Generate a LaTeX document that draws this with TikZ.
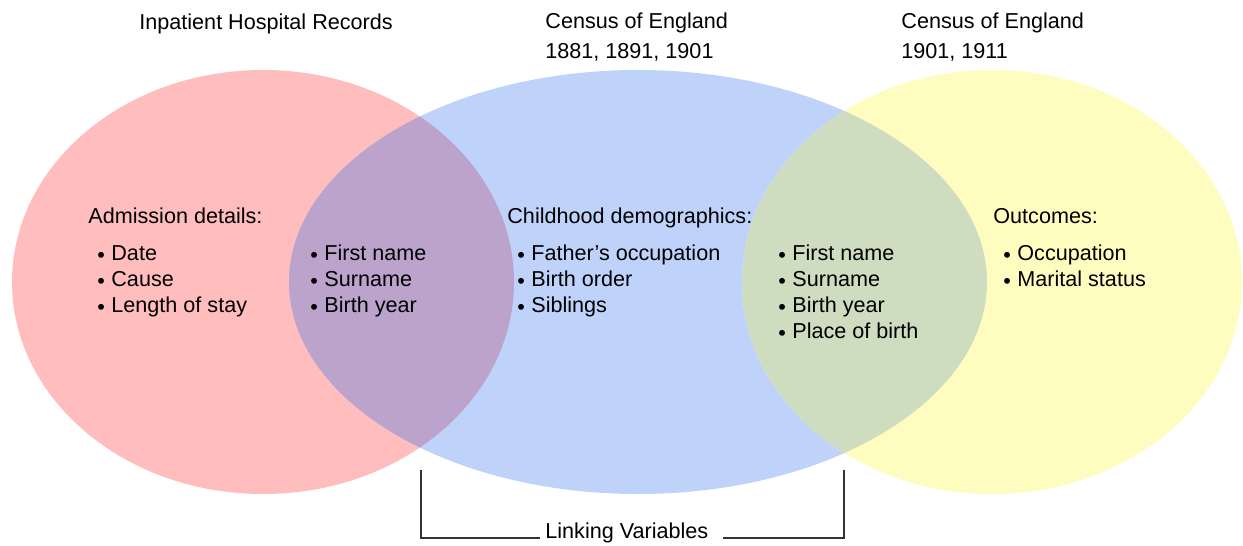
\documentclass[tikz,border=0pt]{standalone}
\usepackage{fontspec}
\setmainfont{Liberation Sans}
\usetikzlibrary{positioning}
\definecolor{HospRed}{HTML}{FFBDBD}
\definecolor{CensusBlue}{HTML}{BED2FA}
\definecolor{CensusYellow}{HTML}{FFFCBF}
\definecolor{LinkPurple}{HTML}{BBA3CC}
\definecolor{LinkGreen}{HTML}{CEDCC0}
\definecolor{BracketGrey}{HTML}{333333}
\newcommand{\lbul}{\makebox[7pt][l]{\raisebox{-1.4pt}{\textbullet}}}

\begin{document}
\begin{tikzpicture}[x=0.5pt,y=-0.5pt,font=\fontsize{10.8}{13}\selectfont]
  % multi-line nodes sit on the baseline of their last line
  \tikzstyle{heading}=[anchor=base west,inner sep=0pt,align=left]
  \tikzstyle{itemlist}=[anchor=base west,inner sep=0pt,align=left]
  \tikzstyle{bracket}=[draw=BracketGrey,line width=1pt]
  \useasboundingbox (0,0) rectangle (1243,546);

  % the three record sets
  \fill[HospRed] (263,282) ellipse [x radius=251,y radius=212];
  \fill[CensusBlue] (638,282) ellipse [x radius=349,y radius=212];
  \fill[CensusYellow] (992,282) ellipse [x radius=250,y radius=212];
  % overlaps
  \begin{scope}
    \clip (263,282) ellipse [x radius=251,y radius=212];
    \fill[LinkPurple] (638,282) ellipse [x radius=349,y radius=212];
  \end{scope}
  \begin{scope}
    \clip (992,282) ellipse [x radius=250,y radius=212];
    \fill[LinkGreen] (638,282) ellipse [x radius=349,y radius=212];
  \end{scope}

  % source titles
  \node[heading] (hosp) at (139,29) {Inpatient Hospital Records};
  \node[heading] (cens1) at (545,58) {Census of England\\[2pt]1881, 1891, 1901};
  \node[heading] (cens2) at (901,58) {Census of England\\[2pt]1901, 1911};

  % variables
  \node[heading] (adm) at (88,223) {Admission details:};
  \node[itemlist] (admlist) at ([shift={(9,89)}]adm.base west)
    {\lbul Date\\\lbul Cause\\\lbul Length of stay};
  \node[itemlist] (linkA) at (310,312)
    {\lbul First name\\\lbul Surname\\\lbul Birth year};
  \node[heading] (child) at (507,223) {Childhood demographics:};
  \node[itemlist] (childlist) at ([shift={(10,89)}]child.base west)
    {\lbul Father's occupation\\\lbul Birth order\\\lbul Siblings};
  \node[itemlist] (linkB) at (778,338)
    {\lbul First name\\\lbul Surname\\\lbul Birth year\\\lbul Place of birth};
  \node[heading] (outc) at (993,223) {Outcomes:};
  \node[itemlist] (outclist) at ([shift={(10,63)}]outc.base west)
    {\lbul Occupation\\\lbul Marital status};

  % linking bracket
  \node[heading] (link) at (545,538) {Linking Variables};
  \coordinate (lkL) at (421,470);
  \coordinate (lkR) at (844,470);
  \draw[bracket] (lkL) |- ([xshift=-2.5pt]link.base west);
  \draw[bracket] (lkR) |- ([xshift=7pt]link.base east);
\end{tikzpicture}
\end{document}
